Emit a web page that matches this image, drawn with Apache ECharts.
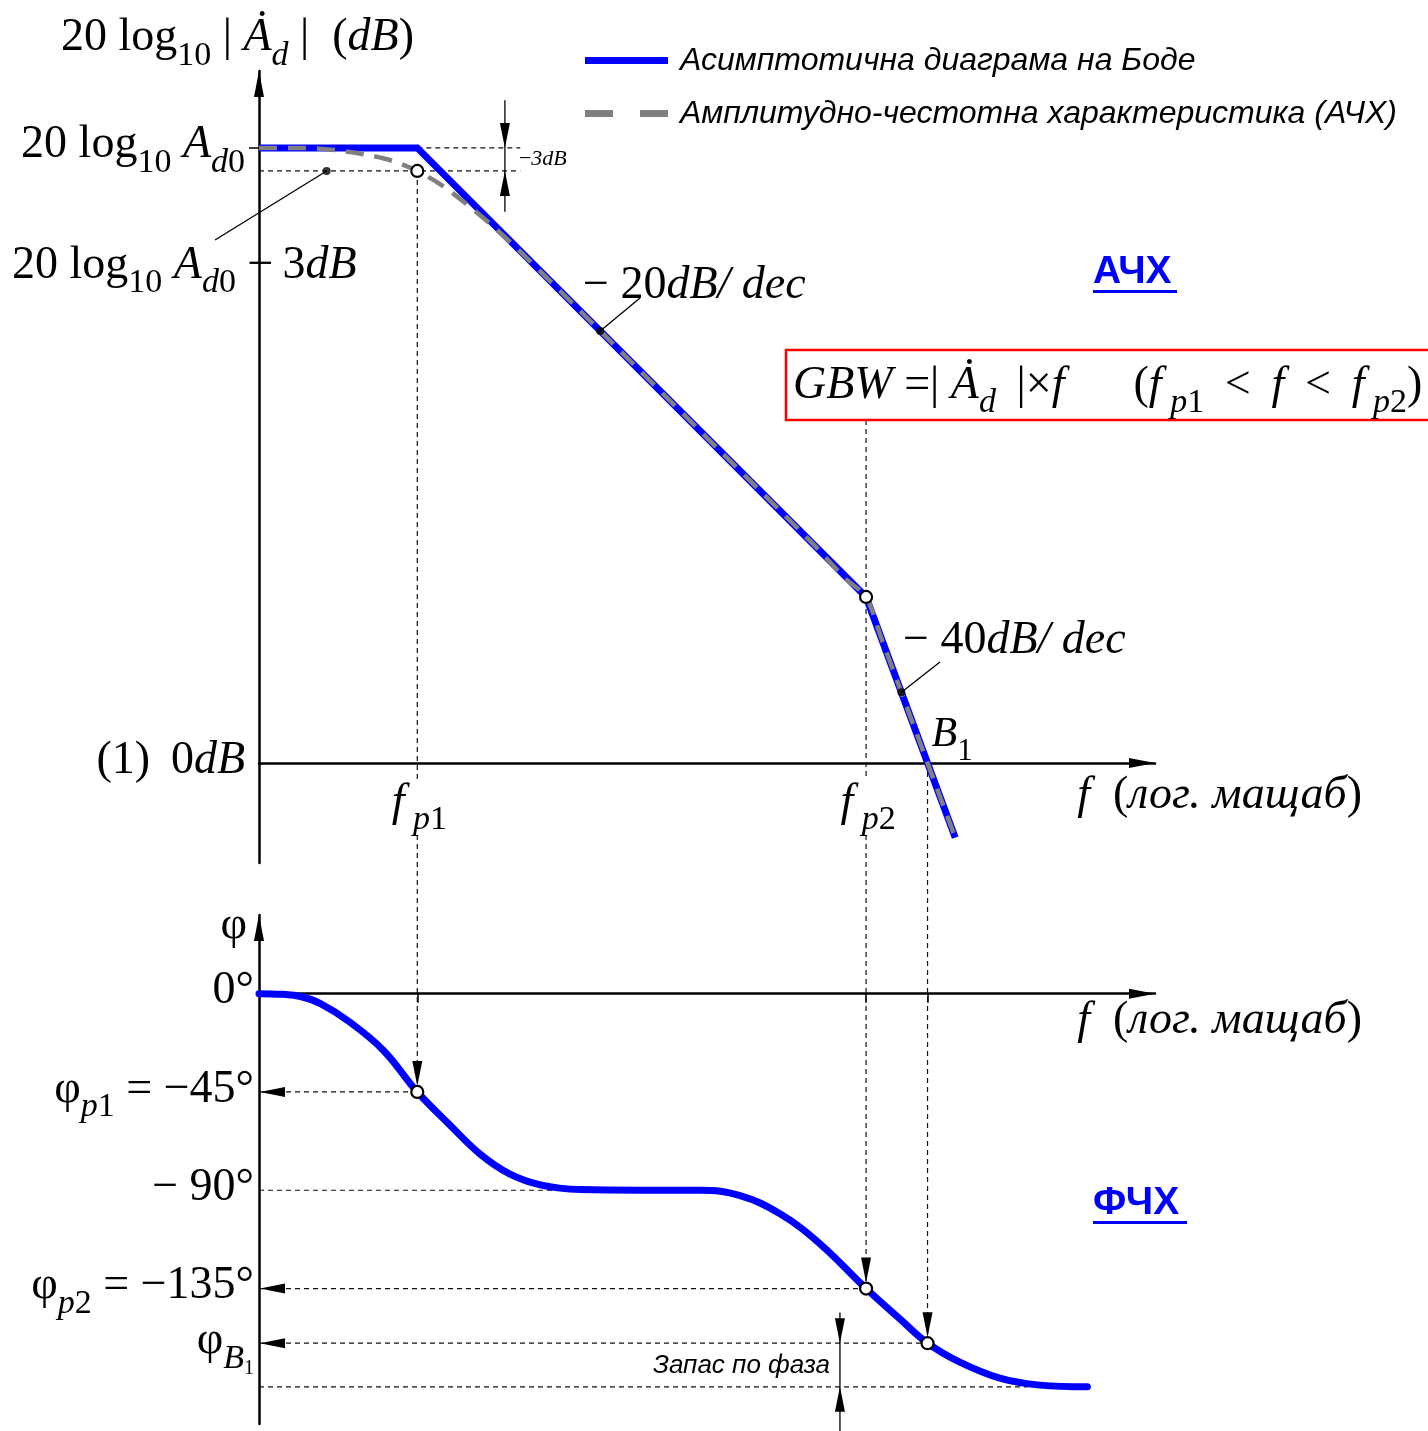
<!DOCTYPE html>
<html>
<head>
<meta charset="utf-8">
<script src="https://cdn.jsdelivr.net/npm/echarts@6/dist/echarts.min.js"></script>
<style>
  html, body { margin: 0; padding: 0; background: #fff; }
  #chart { width: 1428px; height: 1431px; }
</style>
</head>
<body>
<div id="chart"></div>
<script>
// Frequency is given in decades (log10 f) from the left edge of the plots,
// gain in dB, phase in degrees.
const FP1 = 1.03;          // first pole
const FP2 = 3.95;          // second pole
const FB1 = 4.35;          // unity-gain crossing B1
const A0 = 80;             // 20 log10 Ad0

const seriesNames = ['Асимптотична диаграма на Боде', 'Амплитудно-честотна характеристика (АЧХ)'];

// Bode asymptote (flat, -20 dB/dec, -40 dB/dec)
const bodeAsymptote = [[0, 80], [1.03, 80], [3.95, 21.6], [4.53, -9.7]];

// actual magnitude response
const magnitudeResponse = [
  [0, 80], [0.3, 80], [0.5, 79.7], [0.7, 79.1], [0.87, 78.3], [1.03, 77], [1.2, 75.0],
  [1.35, 72.7], [1.5, 70.2], [1.7, 66.5], [2.2, 56.6], [3.0, 40.6], [3.6, 28.6],
  [3.82, 23.9], [3.95, 21.6], [4.05, 16.2], [4.53, -9.7]
];

// phase response
const phaseResponse = [
  [0, 0], [0.15, -0.3], [0.27, -1.3], [0.4, -4.6], [0.59, -13], [0.81, -26], [1.03, -45], [1.24, -60],
  [1.44, -73.5], [1.63, -82.5], [1.83, -87.5], [2.09, -89.7], [2.48, -90], [2.87, -90],
  [3.13, -92.5], [3.39, -100.8], [3.65, -114.5], [3.95, -135], [4.17, -148.9], [4.35, -160],
  [4.56, -168.7], [4.82, -176], [5.08, -179.2], [5.39, -180]
];

// highlighted points
const magnitudePoints = [[1.03, 77], [3.95, 21.6]];
const phasePoints = [[1.03, -45], [3.95, -135], [4.35, -160]];
// points where the slope / level call-outs attach
const calloutDots = [[0.44, 77], [2.22, 56.2], [4.18, 9.2]];

// axis label values and texts
const gainTickValues = [80, 0];
const gainTickLabels = ['{r|20 log}{s|10}{r| }{i|A}{si|d}{s|0}{g| }', '{r|(1) \u20090}{i|dB}{g| }'];
const freqTickValues = [FP1, FP2];
const freqTickLabels = ['{i|f}{si| p}{s|1}', '{i|f}{si| p}{s|2}'];
const phaseTickValues = [0, -45, -90, -135, -160, -180];
const phaseTickLabels = [
  '{r|0°}',
  '{r|φ}{si|p}{s|1}{r| = −45°}',
  '{r|− 90°}',
  '{r|φ}{si|p}{s|2}{r| = −135°}',
  '{r|φ}{si|B}{ss|1}',
  '{r|−180°}'
];

const SERIF = '"Liberation Serif", "Times New Roman", serif';
const SANS = '"Liberation Sans", Arial, sans-serif';
const BLUE = '#0000ff';
const GREY = '#808080';
const FS = 46;

// rich-text styles for formula-like labels (main text + subscripts)
function mathRich(fs) {
  const sub = Math.round(fs * 0.74);
  const lh = Math.round(fs * 1.1);
  const pad = Math.round(fs * 0.52);
  const base = { fontFamily: SERIF, color: '#000', fill: '#000', verticalAlign: 'top' };
  const tiny = Math.round(sub * 0.6);
  return {
    r: Object.assign({}, base, { fontSize: fs, lineHeight: lh }),
    i: Object.assign({}, base, { fontSize: fs, lineHeight: lh, fontStyle: 'italic' }),
    s: Object.assign({}, base, { fontSize: sub, lineHeight: sub, padding: [pad, 0, 0, 0] }),
    si: Object.assign({}, base, { fontSize: sub, lineHeight: sub, padding: [pad, 0, 0, 0], fontStyle: 'italic' }),
    ss: Object.assign({}, base, { fontSize: tiny, lineHeight: tiny, padding: [pad + Math.round(sub * 0.5), 0, 0, 0] }),
    g: Object.assign({}, base, { fontSize: 10, lineHeight: 10, width: 9 })
  };
}

const chart = echarts.init(document.getElementById('chart'), null, { renderer: 'canvas' });

const axisLineStyle = { color: '#000', width: 2.5 };
const arrowLine = {
  show: true,
  onZero: true,
  symbol: ['none', 'triangle'],
  symbolSize: [10, 26],
  symbolOffset: [0, -13],
  lineStyle: axisLineStyle
};

const freqName = '{i|f}{r|  (}{i|лог. мащаб}{r|)}';

const option = {
  animation: false,
  backgroundColor: '#fff',
  textStyle: { fontFamily: SERIF },
  grid: [
    { left: 259, top: 71, width: 896, height: 792, outerBoundsMode: 'none', containLabel: false },
    { left: 259, top: 915, width: 896, height: 509, outerBoundsMode: 'none', containLabel: false }
  ],
  xAxis: [
    {
      gridIndex: 0, type: 'value', min: 0, max: 5.83,
      axisLine: arrowLine,
      axisTick: { show: false },
      splitLine: { show: false },
      axisLabel: { show: false },
      name: freqName,
      nameLocation: 'end',
      nameGap: 207,
      nameMoveOverlap: false,
      nameTextStyle: { align: 'right', verticalAlign: 'middle', padding: [70, 0, 0, 0], rich: mathRich(FS) }
    },
    {
      gridIndex: 1, type: 'value', min: 0, max: 5.83,
      axisLine: arrowLine,
      axisTick: { show: true, customValues: [FP1, FP2, FB1], length: 9, inside: false, lineStyle: { color: '#000', width: 1.5 } },
      splitLine: { show: false },
      axisLabel: { show: false },
      name: freqName,
      nameLocation: 'end',
      nameGap: 207,
      nameMoveOverlap: false,
      nameTextStyle: { align: 'right', verticalAlign: 'middle', padding: [60, 0, 0, 0], rich: mathRich(FS) }
    }
  ],
  yAxis: [
    {
      gridIndex: 0, type: 'value', min: -13, max: 90,
      axisLine: arrowLine,
      axisTick: { show: true, customValues: [80], length: 10, inside: false, lineStyle: { color: '#000', width: 1.5 } },
      splitLine: { show: false },
      axisLabel: {
        customValues: gainTickValues,
        margin: 5,
        formatter: v => gainTickLabels[gainTickValues.indexOf(v)] || '',
        rich: mathRich(FS)
      },
      name: '{r|20 log}{s|10}{r| | }{i|Ȧ}{si|d}{r| |  (}{i|dB}{r|)}',
      nameLocation: 'end',
      nameGap: 5,
      nameMoveOverlap: false,
      nameTextStyle: { align: 'center', verticalAlign: 'bottom', padding: [0, 43, 0, 0], rich: mathRich(FS) }
    },
    {
      gridIndex: 1, type: 'value', min: -197, max: 36,
      axisLine: arrowLine,
      axisTick: { show: false },
      splitLine: { show: false },
      axisLabel: {
        customValues: phaseTickValues,
        margin: 5,
        formatter: v => phaseTickLabels[phaseTickValues.indexOf(v)] || '',
        rich: mathRich(FS)
      },
      name: '{r|φ}',
      nameLocation: 'end',
      nameGap: -13,
      nameMoveOverlap: false,
      nameTextStyle: { align: 'right', verticalAlign: 'middle', padding: [0, 12, 0, 0], rich: mathRich(FS) }
    }
  ],
  series: [
    {
      name: seriesNames[0], type: 'line', xAxisIndex: 0, yAxisIndex: 0,
      data: bodeAsymptote, symbol: 'none', z: 2,
      lineStyle: { color: BLUE, width: 7, join: 'miter' },
      itemStyle: { color: BLUE }
    },
    {
      name: seriesNames[1], type: 'line', xAxisIndex: 0, yAxisIndex: 0,
      data: magnitudeResponse, symbol: 'none', smooth: 0.3, z: 3,
      lineStyle: { color: GREY, width: 4.5, type: [18, 11] },
      itemStyle: { color: GREY }
    },
    {
      name: 'phase', type: 'line', xAxisIndex: 1, yAxisIndex: 1,
      data: phaseResponse, symbol: 'none', smooth: 0.4, z: 2,
      lineStyle: { color: BLUE, width: 7, cap: 'round' }
    },
    {
      name: 'magnitude points', type: 'scatter', xAxisIndex: 0, yAxisIndex: 0,
      data: magnitudePoints, symbol: 'circle', symbolSize: 12, z: 5,
      itemStyle: { color: '#fff', borderColor: '#000', borderWidth: 2.2, opacity: 1 }
    },
    {
      name: 'call-out dots', type: 'scatter', xAxisIndex: 0, yAxisIndex: 0,
      data: calloutDots, symbol: 'circle', symbolSize: 8, z: 5,
      itemStyle: { color: '#000' }
    },
    {
      name: 'phase points', type: 'scatter', xAxisIndex: 1, yAxisIndex: 1,
      data: phasePoints, symbol: 'circle', symbolSize: 12, z: 5,
      itemStyle: { color: '#fff', borderColor: '#000', borderWidth: 2.2, opacity: 1 }
    }
  ]
};

chart.setOption(option);

// legend, guide lines, dimension arrows and call-out texts, placed through the axes' scales
function buildGuides() {
  const P0 = p => chart.convertToPixel({ gridIndex: 0 }, p);
  const P1 = p => chart.convertToPixel({ gridIndex: 1 }, p);
  const els = [];
  const DASH = { stroke: '#111', lineWidth: 1.2, lineDash: [5, 4] };
  const SOLID = { stroke: '#000', lineWidth: 1.3 };
  const seg = (a, b, style, z) => els.push({
    type: 'line', silent: true, z: z || 1,
    shape: { x1: a[0], y1: a[1], x2: b[0], y2: b[1] }, style: style
  });
  const arrow = (tip, from) => {
    const dx = tip[0] - from[0], dy = tip[1] - from[1];
    const len = Math.hypot(dx, dy), ux = dx / len, uy = dy / len;
    const L = 25, W = 5;
    const bx = tip[0] - ux * L, by = tip[1] - uy * L;
    els.push({
      type: 'polygon', silent: true, z: 6,
      shape: { points: [tip, [bx - uy * W, by + ux * W], [bx + uy * W, by - ux * W]] },
      style: { fill: '#000' }
    });
  };
  const text = (x, y, str, rich, align, z) => els.push({
    type: 'text', silent: true, z: z || 10, x: x, y: y,
    style: { text: str, rich: rich, align: align || 'left', verticalAlign: 'middle' }
  });

  // legend
  const legendText = (y, str) => els.push({
    type: 'text', silent: true, z: 10, x: 680, y: y,
    style: { text: str, fontFamily: SANS, fontStyle: 'italic', fontSize: 32, fill: '#000', align: 'left', verticalAlign: 'middle' }
  });
  els.push({ type: 'rect', silent: true, z: 10, shape: { x: 585, y: 57, width: 83, height: 7 }, style: { fill: BLUE } });
  legendText(61, seriesNames[0]);
  els.push({ type: 'rect', silent: true, z: 10, shape: { x: 585, y: 110, width: 28, height: 7 }, style: { fill: GREY } });
  els.push({ type: 'rect', silent: true, z: 10, shape: { x: 640, y: 110, width: 28, height: 7 }, style: { fill: GREY } });
  legendText(114, seriesNames[1]);

  const axisY = P0([0, 0])[1];
  const R = 6; // radius of the highlighted point circles

  // frequency marks under the gain axis
  freqTickValues.forEach((v, k) => {
    const p = P0([v, 0]);
    text(p[0] + 2, axisY + 42, freqTickLabels[k], mathRich(FS), 'center');
  });

  // -3 dB level and its dimension
  const DIM_X = 1.6;
  seg(P0([FP1, A0]), P0([DIM_X + 0.1, A0]), DASH);
  seg(P0([0, A0 - 3]), P0([DIM_X + 0.1, A0 - 3]), DASH);
  seg(P0([DIM_X, 86.2]), P0([DIM_X, 71.7]), SOLID, 6);
  arrow(P0([DIM_X, A0]), P0([DIM_X, 86]));
  arrow(P0([DIM_X, A0 - 3]), P0([DIM_X, 71]));
  const d3 = P0([DIM_X, A0 - 1.5]);
  text(d3[0] + 14, d3[1] + 1, '{r|−}{i|3dB}', mathRich(22));

  // vertical projections fp1, fp2, fB1 down to the phase plot
  const vfp1 = P0([FP1, A0 - 3]);
  seg(vfp1, [vfp1[0], axisY + 17], DASH);
  const pp1 = P1([FP1, -45]);
  seg([vfp1[0], axisY + 72], [pp1[0], pp1[1] - R], DASH);
  arrow([pp1[0], pp1[1] - R], [pp1[0], pp1[1] - 60]);

  const vfp2 = P0([FP2, 0]);
  seg([vfp2[0], 420], [vfp2[0], axisY + 17], DASH);
  const pp2 = P1([FP2, -135]);
  seg([vfp2[0], axisY + 72], [pp2[0], pp2[1] - R], DASH);
  arrow([pp2[0], pp2[1] - R], [pp2[0], pp2[1] - 60]);

  const vb1 = P0([FB1, 0]);
  const pb1 = P1([FB1, -160]);
  seg(vb1, [pb1[0], pb1[1] - R], DASH);
  arrow([pb1[0], pb1[1] - R], [pb1[0], pb1[1] - 60]);

  // horizontal projections onto the phase axis
  [[FP1, -45], [FP2, -135], [FB1, -160]].forEach(p => {
    const a = P1([0, p[1]]), b = P1(p);
    seg(a, [b[0] - R, b[1]], DASH);
    arrow([a[0] + 1, a[1]], [a[0] + 60, a[1]]);
  });
  seg(P1([0, -90]), P1([2.1, -90]), DASH);
  seg(P1([0, -180]), P1([5.0, -180]), DASH);

  // phase margin dimension
  const PM_X = 3.78;
  const pmTop = P1([PM_X, -146]);
  seg(pmTop, [pmTop[0], 1431], SOLID, 6);
  arrow(P1([PM_X, -160]), P1([PM_X, -150]));
  arrow(P1([PM_X, -180]), P1([PM_X, -190]));
  const pmMid = P1([PM_X, -170]);
  els.push({
    type: 'text', silent: true, z: 10, x: pmMid[0] - 10, y: pmMid[1] + 1,
    style: { text: 'Запас по фаза', fontFamily: SANS, fontStyle: 'italic', fontSize: 26, fill: '#000', align: 'right', verticalAlign: 'middle' }
  });

  // call-outs with leader lines
  seg([215, 240], P0(calloutDots[0]), SOLID, 4);
  text(12, 268, '{r|20 log}{s|10}{r| }{i|A}{si|d}{s|0}{r| −\u20093}{i|dB}', mathRich(FS));
  seg([640, 298], P0(calloutDots[1]), SOLID, 4);
  text(583, 288, '{r|− 20}{i|dB/ dec}', mathRich(FS));
  seg([940, 662], P0(calloutDots[2]), SOLID, 4);
  text(903, 643, '{r|− 40}{i|dB/ dec}', mathRich(FS));
  const b1 = P0([FB1, 0]);
  text(b1[0] + 4, b1[1] - 26, '{i|B}{s|1}', mathRich(42));

  // GBW formula box
  els.push({
    type: 'rect', silent: true, z: 3,
    shape: { x: 786, y: 350, width: 700, height: 70 },
    style: { fill: '#fff', stroke: '#ff0000', lineWidth: 2.5 }
  });
  text(793, 388, '{i|GBW}{r| =| }{i|Ȧ}{si|d}{r| \u2009|×}{i|f}{r|      (}{i|f}{si| p}{s|1}{r| \u2009<\u2009 }{i|f}{r| \u2009<\u2009 }{i|f}{si| p}{s|2}{r|)}', mathRich(FS));

  // panel titles
  const heading = (x, y, str, w) => {
    els.push({
      type: 'text', silent: true, z: 10, x: x, y: y,
      style: { text: str, fontFamily: SANS, fontWeight: 'bold', fontSize: 39, fill: BLUE, align: 'left', verticalAlign: 'middle' }
    });
    els.push({ type: 'rect', silent: true, z: 10, shape: { x: x, y: y + 18, width: w, height: 3 }, style: { fill: BLUE } });
  };
  heading(1093, 272, 'АЧХ', 84);
  heading(1093, 1203, 'ФЧХ', 94);

  return els;
}

chart.setOption({ graphic: { elements: buildGuides() } });
</script>
</body>
</html>
